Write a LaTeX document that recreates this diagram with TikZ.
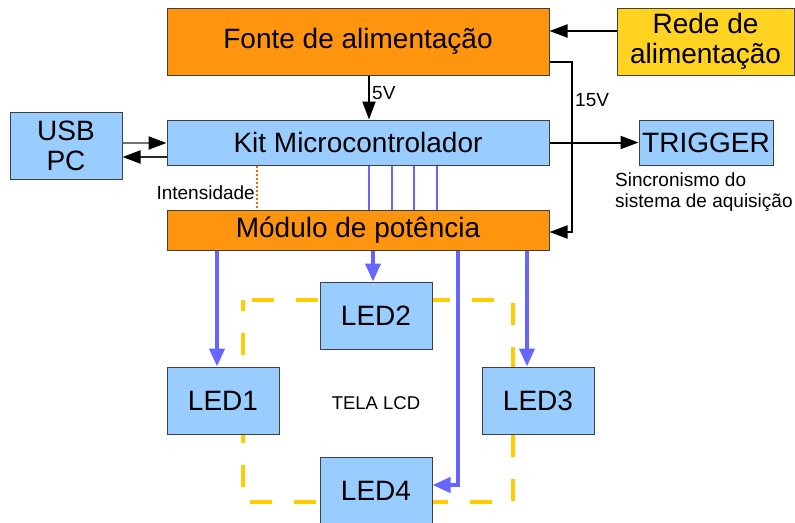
\documentclass[tikz,border=0pt]{standalone}
\usepackage{fontspec}
\setmainfont{Liberation Sans}
\usetikzlibrary{arrows.meta}
\definecolor{boxorange}{HTML}{FF950E}
\definecolor{boxblue}{HTML}{99CCFF}
\definecolor{boxyellow}{HTML}{FFD320}
\definecolor{screenyellow}{HTML}{FFCC00}
\definecolor{ledblue}{HTML}{6666FF}
\definecolor{dotorange}{HTML}{FF6600}
\begin{document}
\begin{tikzpicture}[x=1pt,y=-1pt,
  blk/.style={draw=black!75, line width=1pt, inner sep=0pt, font=\fontsize{28}{30}\selectfont, align=center},
  orangebox/.style={blk, fill=boxorange},
  bluebox/.style={blk, fill=boxblue},
  ledbox/.style={blk, fill=boxblue, minimum width=112pt, minimum height=67pt},
  smalltxt/.style={font=\fontsize{19}{21}\selectfont, inner sep=0pt},
  arr/.style={line width=2pt, -{Triangle[length=18pt,width=13pt,color=black]}},
  ledarr/.style={ledblue, line width=4pt, -{Triangle[length=18pt,width=15pt]}},
  busline/.style={ledblue, line width=2pt},
]
\clip (0,0) rectangle (795,522);
\fill[white] (0,0) rectangle (795,522);

% LCD screen outline (drawn first so the LED boxes sit on top of it)
\draw[screenyellow, line width=4pt, dash pattern=on 22pt off 22pt, dash phase=11pt]
  (243,300) rectangle (513,502);
\node[smalltxt, font=\fontsize{18.5}{20}\selectfont] (tela) at (376,403) {TELA LCD};

% Blocks
\node[orangebox, minimum width=382pt, minimum height=67pt] (fonte) at (358,41.5) {Fonte de alimentação};
\node[blk, fill=boxyellow, minimum width=177pt, minimum height=67pt] (rede) at (705.5,41.5) {Rede de\\alimentação};
\node[bluebox, minimum width=382pt, minimum height=45pt] (kit) at (358,142.5) {Kit Microcontrolador};
\node[bluebox, minimum width=112pt, minimum height=67pt] (usb) at (66,145.5) {USB\\PC};
\node[bluebox, minimum width=134pt, minimum height=45pt] (trigger) at (706,142.5) {TRIGGER};
\node[orangebox, minimum width=382pt, minimum height=40pt] (modulo) at (358,230) {Módulo de potência};

\node[ledbox] (led1) at (223,400.5) {LED1};
\node[ledbox] (led2) at (376,315.5) {LED2};
\node[ledbox] (led3) at (538,400.5) {LED3};
\node[ledbox] (led4) at (376,490.5) {LED4};

% Power supply connections
\draw[arr] (rede.west |- 0,31) -- (fonte.east |- 0,31);
\draw[arr] (fonte.south -| 369,0) -- (kit.north -| 369,0);
\node[smalltxt, anchor=west] (v5) at (372,93) {5V};
\coordinate (r15a) at (572,62);
\coordinate (r15b) at (572,232);
\draw[arr] (fonte.east |- r15a) -- (r15a) -- (r15b) -- (modulo.east |- r15b);
\node[smalltxt, anchor=west] (v15) at (575,100) {15V};

% USB link
\draw[arr, draw=black!55] (usb.east |- 0,143) -- (kit.west |- 0,143);
\draw[arr, draw=black!85] (kit.west |- 0,157) -- (usb.east |- 0,157);

% Trigger output
\draw[arr] (kit.east) -- (trigger.west);
\node[smalltxt, anchor=north west, align=left] (sinc) at (615,173)
  {Sincronismo do\\sistema de aquisição};

% Intensity control line
\draw[dotorange, line width=2pt, dash pattern=on 2pt off 2pt] (kit.south -| 257,0) -- (modulo.north -| 257,0);
\node[smalltxt, anchor=east] (intens) at (255,193) {Intensidade};

% Control bus between microcontroller and power module
\foreach \bx in {369,392,414,437}
  \draw[busline] (kit.south -| \bx,0) -- (modulo.north -| \bx,0);

% LED drive lines
\draw[ledarr] (modulo.south -| 217,0) -- (led1.north -| 217,0);
\draw[ledarr] (modulo.south -| 373,0) -- (led2.north -| 373,0);
\draw[ledarr] (modulo.south -| 527,0) -- (led3.north -| 527,0);
\coordinate (l4bend) at (458,485);
\draw[ledarr] (modulo.south -| l4bend) -- (l4bend) -- (led4.east |- l4bend);
\end{tikzpicture}
\end{document}
